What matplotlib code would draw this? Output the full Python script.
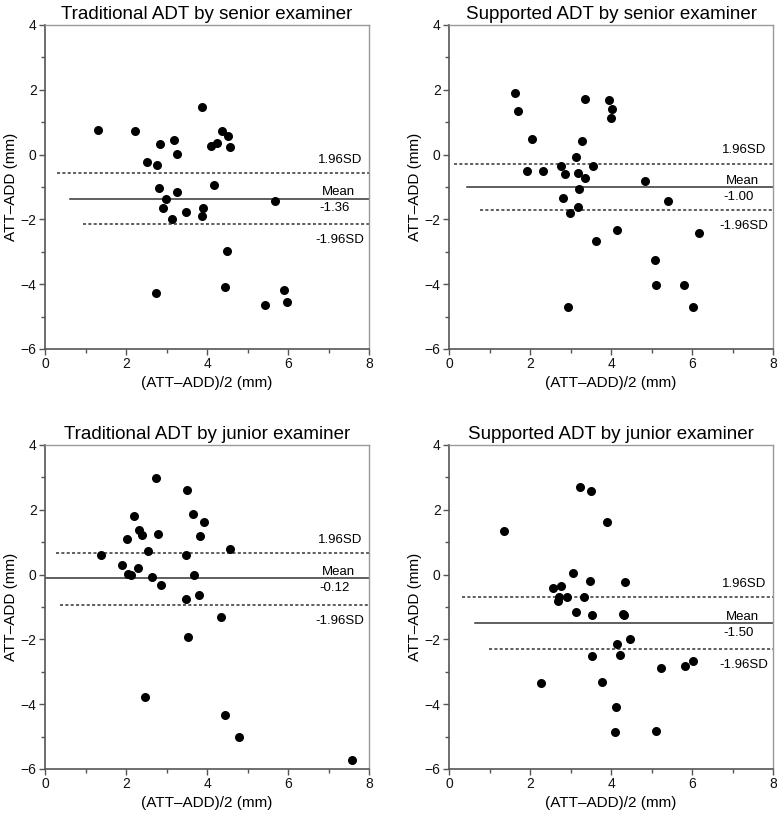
import matplotlib
matplotlib.use('Agg')
import matplotlib.pyplot as plt
from matplotlib.ticker import MultipleLocator
import numpy as np

plt.rcParams['font.family'] = ['Liberation Sans', 'DejaVu Sans']

titles = ['Traditional ADT by senior examiner', 'Supported ADT by senior examiner',
          'Traditional ADT by junior examiner', 'Supported ADT by junior examiner']

# panel 1 - traditional, senior
x1 = [1.30, 2.23, 2.51, 2.76, 2.83, 3.18, 3.26, 3.87, 4.10, 4.25, 4.37, 4.53, 4.58,
      2.81, 3.27, 2.98, 2.91, 3.14, 3.48, 3.91, 3.87, 4.18, 5.68, 4.49, 4.44, 2.73,
      5.89, 5.98, 5.42]
y1 = [0.76, 0.74, -0.23, -0.33, 0.33, 0.44, 0.03, 1.46, 0.27, 0.37, 0.74, 0.57, 0.23,
      -1.04, -1.14, -1.37, -1.65, -1.99, -1.78, -1.64, -1.91, -0.93, -1.43, -2.97, -4.08,
      -4.27, -4.17, -4.55, -4.65]

# panel 2 - supported, senior
x2 = [1.62, 1.71, 2.04, 1.92, 2.31, 2.76, 2.86, 3.14, 3.28, 3.19, 3.35, 3.55, 3.22,
      2.81, 3.19, 2.98, 3.37, 3.96, 4.02, 4.01, 4.83, 5.40, 4.16, 3.62, 6.18, 5.09,
      5.10, 5.80, 2.93, 6.03]
y2 = [1.90, 1.34, 0.47, -0.51, -0.52, -0.35, -0.61, -0.08, 0.41, -0.56, -0.73, -0.34,
      -1.06, -1.34, -1.62, -1.80, 1.71, 1.69, 1.41, 1.13, -0.83, -1.43, -2.32, -2.67,
      -2.43, -3.26, -4.04, -4.04, -4.69, -4.69]

# panel 3 - traditional, junior
x3 = [1.39, 1.91, 2.03, 2.06, 2.12, 2.19, 2.30, 2.31, 2.40, 2.55, 2.63, 2.74, 2.78,
      2.86, 2.48, 3.50, 3.65, 3.92, 3.82, 3.49, 3.69, 3.47, 3.80, 3.52, 4.35, 4.57,
      4.45, 4.80, 7.57]
y3 = [0.59, 0.31, 1.10, 0.02, 0.00, 1.80, 0.19, 1.38, 1.21, 0.74, -0.06, 2.97, 1.25,
      -0.33, -3.79, 2.61, 1.86, 1.61, 1.20, 0.61, 0.00, -0.75, -0.63, -1.92, -1.32,
      0.79, -4.32, -5.02, -5.72]

# panel 4 - supported, junior
x4 = [1.37, 3.23, 3.50, 3.91, 3.05, 2.58, 2.76, 2.72, 2.69, 2.92, 3.34, 3.49, 4.35,
      3.13, 3.53, 4.29, 4.33, 4.47, 4.15, 4.22, 3.53, 2.26, 3.78, 5.23, 5.82, 6.03,
      4.12, 4.11, 5.10]
y4 = [1.35, 2.71, 2.58, 1.62, 0.05, -0.42, -0.35, -0.68, -0.83, -0.68, -0.70, -0.21,
      -0.24, -1.14, -1.26, -1.23, -1.25, -1.99, -2.15, -2.49, -2.52, -3.35, -3.30,
      -2.89, -2.81, -2.68, -4.09, -4.86, -4.82]

means = [-1.36, -1.00, -0.12, -1.50]
upper = [-0.58, -0.29, 0.66, -0.70]
lower = [-2.14, -1.71, -0.93, -2.29]
# where each reference line starts on the x axis
start_up = [0.29, 0.12, 0.28, 0.32]
start_mean = [0.62, 0.44, 0.0, 0.65]
start_low = [0.95, 0.77, 0.38, 0.98]

xs = [x1, x2, x3, x4]
ys = [y1, y2, y3, y4]

fig = plt.figure(figsize=(7.77, 8.13), dpi=100)
W, H = 777, 813
boxes = [(45, 25), (449, 25), (45, 445), (449, 445)]

for i in range(4):
    l, t = boxes[i]
    ax = fig.add_axes([l / W, 1 - (t + 324) / H, 324 / W, 324 / H])
    ax.scatter(xs[i], ys[i], s=30, color='black', zorder=3)
    ax.plot([start_up[i], 8], [upper[i], upper[i]], color='#333333', lw=1.1,
            linestyle=(0, (2, 1.5)))
    ax.plot([start_mean[i], 8], [means[i], means[i]], color='#333333', lw=1.1)
    ax.plot([start_low[i], 8], [lower[i], lower[i]], color='#333333', lw=1.1,
            linestyle=(0, (2, 1.5)))
    ax.text(7.28, upper[i] + 0.42, '1.96SD', ha='center', va='center', fontsize=9.5)
    ax.text(7.25, means[i] + 0.2, 'Mean', ha='center', va='center', fontsize=9.5)
    ax.text(7.15, means[i] - 0.3, '%.2f' % means[i], ha='center', va='center', fontsize=9.5)
    ax.text(7.28, lower[i] - 0.5, '-1.96SD', ha='center', va='center', fontsize=9.5)

    ax.set_xlim(0, 8)
    ax.set_ylim(-6, 4)
    ax.xaxis.set_major_locator(MultipleLocator(2))
    ax.xaxis.set_minor_locator(MultipleLocator(1))
    ax.yaxis.set_major_locator(MultipleLocator(2))
    ax.yaxis.set_minor_locator(MultipleLocator(1))
    ax.tick_params(which='major', length=4, width=1, color='#555555', labelsize=10,
                   pad=2, labelcolor='#111111')
    ax.tick_params(which='minor', length=3, width=1, color='#555555')
    for s in ['left', 'bottom']:
        ax.spines[s].set_color('#555555')
        ax.spines[s].set_linewidth(1.2)
    for s in ['top', 'right']:
        ax.spines[s].set_color('#999999')
        ax.spines[s].set_linewidth(1.0)
    ax.set_xlabel('(ATT\u2013ADD)/2 (mm)', fontsize=11, labelpad=3)
    ax.set_ylabel('ATT\u2013ADD (mm)', fontsize=11, labelpad=2)
    ax.set_title(titles[i], fontsize=13.5, pad=4)

fig.savefig('out.png', dpi=100)
